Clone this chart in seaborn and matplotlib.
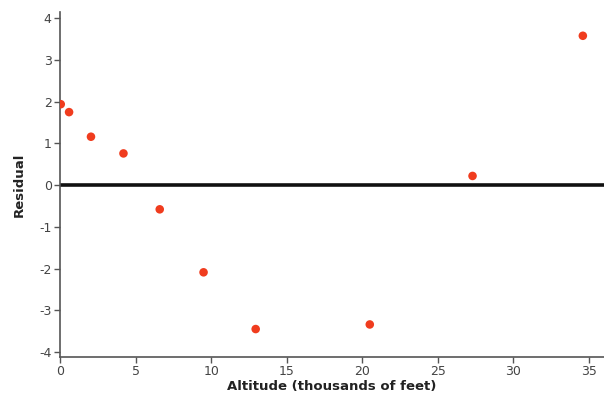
import matplotlib
matplotlib.use("Agg")
import matplotlib.pyplot as plt
import seaborn as sns
import pandas as pd

altitude = [0.05, 0.6, 2.05, 4.2, 6.6, 9.5, 12.95, 20.5, 27.3, 34.6]
residual = [1.94, 1.75, 1.16, 0.76, -0.58, -2.09, -3.45, -3.34, 0.22, 3.58]
x_ticks = [0, 5, 10, 15, 20, 25, 30, 35]
y_ticks = [-4, -3, -2, -1, 0, 1, 2, 3, 4]

df = pd.DataFrame({"Altitude": altitude, "Residual": residual})

sns.set_style("white")
plt.rcParams["font.family"] = ["DejaVu Sans"]

fig = plt.figure(figsize=(6.04, 3.99), dpi=100)
ax = fig.add_axes([60 / 604, 1 - 357 / 399, 1 - 60 / 604, (357 - 12) / 399])

ax.axhline(0, color="#111111", lw=2.6, zorder=1)
sns.scatterplot(data=df, x="Altitude", y="Residual", ax=ax, color="#f03c1e",
                s=38, edgecolor="none", zorder=3, legend=False)

ax.set_xlim(0, 36.0)
ax.set_ylim(-4.12, 4.15)
ax.set_xticks(x_ticks)
ax.set_yticks(y_ticks)
ax.set_xticklabels([str(t) for t in x_ticks])
ax.set_yticklabels([str(t) for t in y_ticks])

for side in ["top", "right"]:
    ax.spines[side].set_visible(False)
for side in ["left", "bottom"]:
    ax.spines[side].set_color("#555555")
    ax.spines[side].set_linewidth(1.2)

ax.tick_params(axis="both", direction="out", length=4, width=1,
               color="#555555", labelsize=9, labelcolor="#444444",
               bottom=True, left=True, pad=2)

ax.set_xlabel("Altitude (thousands of feet)", fontsize=9.5, fontweight="bold",
              color="#222222", labelpad=1)
ax.set_ylabel("Residual", fontsize=9.5, fontweight="bold", color="#222222",
              labelpad=10)

fig.savefig("out.png", dpi=100)
